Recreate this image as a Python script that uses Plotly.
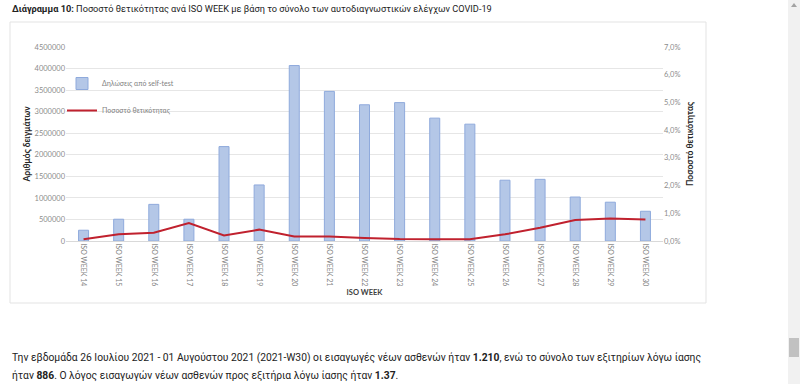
import plotly.graph_objects as go

# ---- data ----
weeks = ["ISO WEEK 14", "ISO WEEK 15", "ISO WEEK 16", "ISO WEEK 17", "ISO WEEK 18",
         "ISO WEEK 19", "ISO WEEK 20", "ISO WEEK 21", "ISO WEEK 22", "ISO WEEK 23",
         "ISO WEEK 24", "ISO WEEK 25", "ISO WEEK 26", "ISO WEEK 27", "ISO WEEK 28",
         "ISO WEEK 29", "ISO WEEK 30"]
self_tests = [250000, 505000, 850000, 505000, 2190000, 1300000, 4070000, 3470000,
              3160000, 3210000, 2850000, 2710000, 1410000, 1430000, 1020000, 900000, 690000]
positivity = [0.06, 0.24, 0.30, 0.65, 0.20, 0.41, 0.16, 0.16, 0.11, 0.07, 0.06, 0.06,
              0.24, 0.48, 0.76, 0.81, 0.78]
left_ticks = [0, 500000, 1000000, 1500000, 2000000, 2500000, 3000000, 3500000, 4000000, 4500000]
right_tickvals = [0, 1, 2, 3, 4, 5, 6, 7]
right_ticktext = ["0,0%", "1,0%", "2,0%", "3,0%", "4,0%", "5,0%", "6,0%", "7,0%"]

title_html = "<b>Διάγραμμα 10:</b> Ποσοστό θετικότητας ανά ISO WEEK με βάση το σύνολο των αυτοδιαγνωστικών ελέγχων COVID-19"
para_line1 = ("Την εβδομάδα 26 Ιουλίου 2021 - 01 Αυγούστου 2021 (2021-W30) οι εισαγωγές νέων ασθενών ήταν "
              "<b>1.210</b>, ενώ το σύνολο των εξιτηρίων λόγω ίασης")
para_line2 = "ήταν <b>886</b>. Ο λόγος εισαγωγών νέων ασθενών προς εξιτήρια λόγω ίασης ήταν <b>1.37</b>."

# ---- geometry helpers (pixel -> paper) ----
W, H = 800, 384
PL, PR, PT, PB = 66, 663, 47, 241


def px(x):
    return (x - PL) / (PR - PL)


def py(y):
    return (PB - y) / (PB - PT)


PAGE_FONT = "Roboto, sans-serif"
CHART_FONT = "Lato, Open Sans, sans-serif"

fig = go.Figure()
fig.add_trace(go.Bar(
    x=weeks, y=self_tests, name="Δηλώσεις από self-test",
    marker=dict(color="#B4C7E7", line=dict(color="#8FAADC", width=1)),
    yaxis="y", legendgroup="a",
))
fig.add_trace(go.Scatter(
    x=weeks, y=positivity, name="Ποσοστό θετικότητας", mode="lines",
    line=dict(color="#C0212E", width=2),
    yaxis="y2", legendgroup="b",
))

fig.update_layout(
    width=W, height=H,
    margin=dict(l=PL, r=W - PR, t=PT, b=H - PB, autoexpand=False),
    paper_bgcolor="white", plot_bgcolor="white",
    font=dict(family=CHART_FONT, color="#595959"),
    bargap=0.715,
    showlegend=True,
    legend=dict(
        x=px(62), y=py(69), xanchor="left", yanchor="top",
        bgcolor="rgba(0,0,0,0)", font=dict(size=7, color="#7F7F7F"),
        traceorder="grouped", tracegroupgap=8, itemwidth=30,
    ),
    xaxis=dict(
        type="category", tickangle=90, tickfont=dict(size=7, color="#7F7F7F"),
        showline=True, linecolor="#D9D9D9", linewidth=1, ticks="",
        title=dict(text="<b>ISO WEEK</b>", font=dict(size=7.5, color="#404040"), standoff=4),
    ),
    yaxis=dict(
        range=[0, 4500000], tickvals=left_ticks, tickformat="d",
        tickfont=dict(size=7.5, color="#8C8C8C"),
        showgrid=True, gridcolor="#E6E6E6", gridwidth=1, zeroline=False,
        ticks="", ticklen=0,
        title=dict(text="<b>Αριθμός δειγμάτων</b>", font=dict(size=8.5, color="#262626"), standoff=2),
    ),
    yaxis2=dict(
        range=[0, 7], overlaying="y", side="right",
        tickvals=right_tickvals, ticktext=right_ticktext,
        tickfont=dict(size=7.5, color="#8C8C8C"),
        showgrid=False, zeroline=False,
        title=dict(text="<b>Ποσοστό θετικότητας</b>", font=dict(size=8.5, color="#262626"), standoff=7),
    ),
    shapes=[
        # chart box
        dict(type="rect", xref="paper", yref="paper",
             x0=px(10), x1=px(706), y0=py(303), y1=py(22),
             line=dict(color="#E3E3E3", width=1), fillcolor="rgba(0,0,0,0)", layer="below"),
        # scrollbar track
        dict(type="rect", xref="paper", yref="paper",
             x0=px(788), x1=px(800), y0=py(384), y1=py(0),
             line=dict(width=0), fillcolor="#F1F1F1", layer="below"),
        # scrollbar thumb
        dict(type="rect", xref="paper", yref="paper",
             x0=px(789), x1=px(799), y0=py(357), y1=py(338),
             line=dict(width=0), fillcolor="#C1C1C1", layer="below"),
        # scrollbar arrow
        dict(type="path", xref="paper", yref="paper",
             path="M {a},{b} L {c},{b} L {d},{e} Z".format(
                 a=px(791), c=px(797), b=py(7), d=px(794), e=py(3)),
             line=dict(width=0), fillcolor="#A3A3A3"),
    ],
    annotations=[
        dict(text=title_html, xref="paper", yref="paper", x=px(10), y=py(8),
             xanchor="left", yanchor="middle", showarrow=False,
             font=dict(family=PAGE_FONT, size=9.2, color="#222222")),
        dict(text=para_line1, xref="paper", yref="paper", x=px(10), y=py(357),
             xanchor="left", yanchor="middle", showarrow=False,
             font=dict(family=PAGE_FONT, size=10.3, color="#222222")),
        dict(text=para_line2, xref="paper", yref="paper", x=px(10), y=py(375),
             xanchor="left", yanchor="middle", showarrow=False,
             font=dict(family=PAGE_FONT, size=10.3, color="#222222")),
    ],
)

fig.write_html("out.html", config={"displayModeBar": False},
               post_script="document.body.style.margin='0px';")
